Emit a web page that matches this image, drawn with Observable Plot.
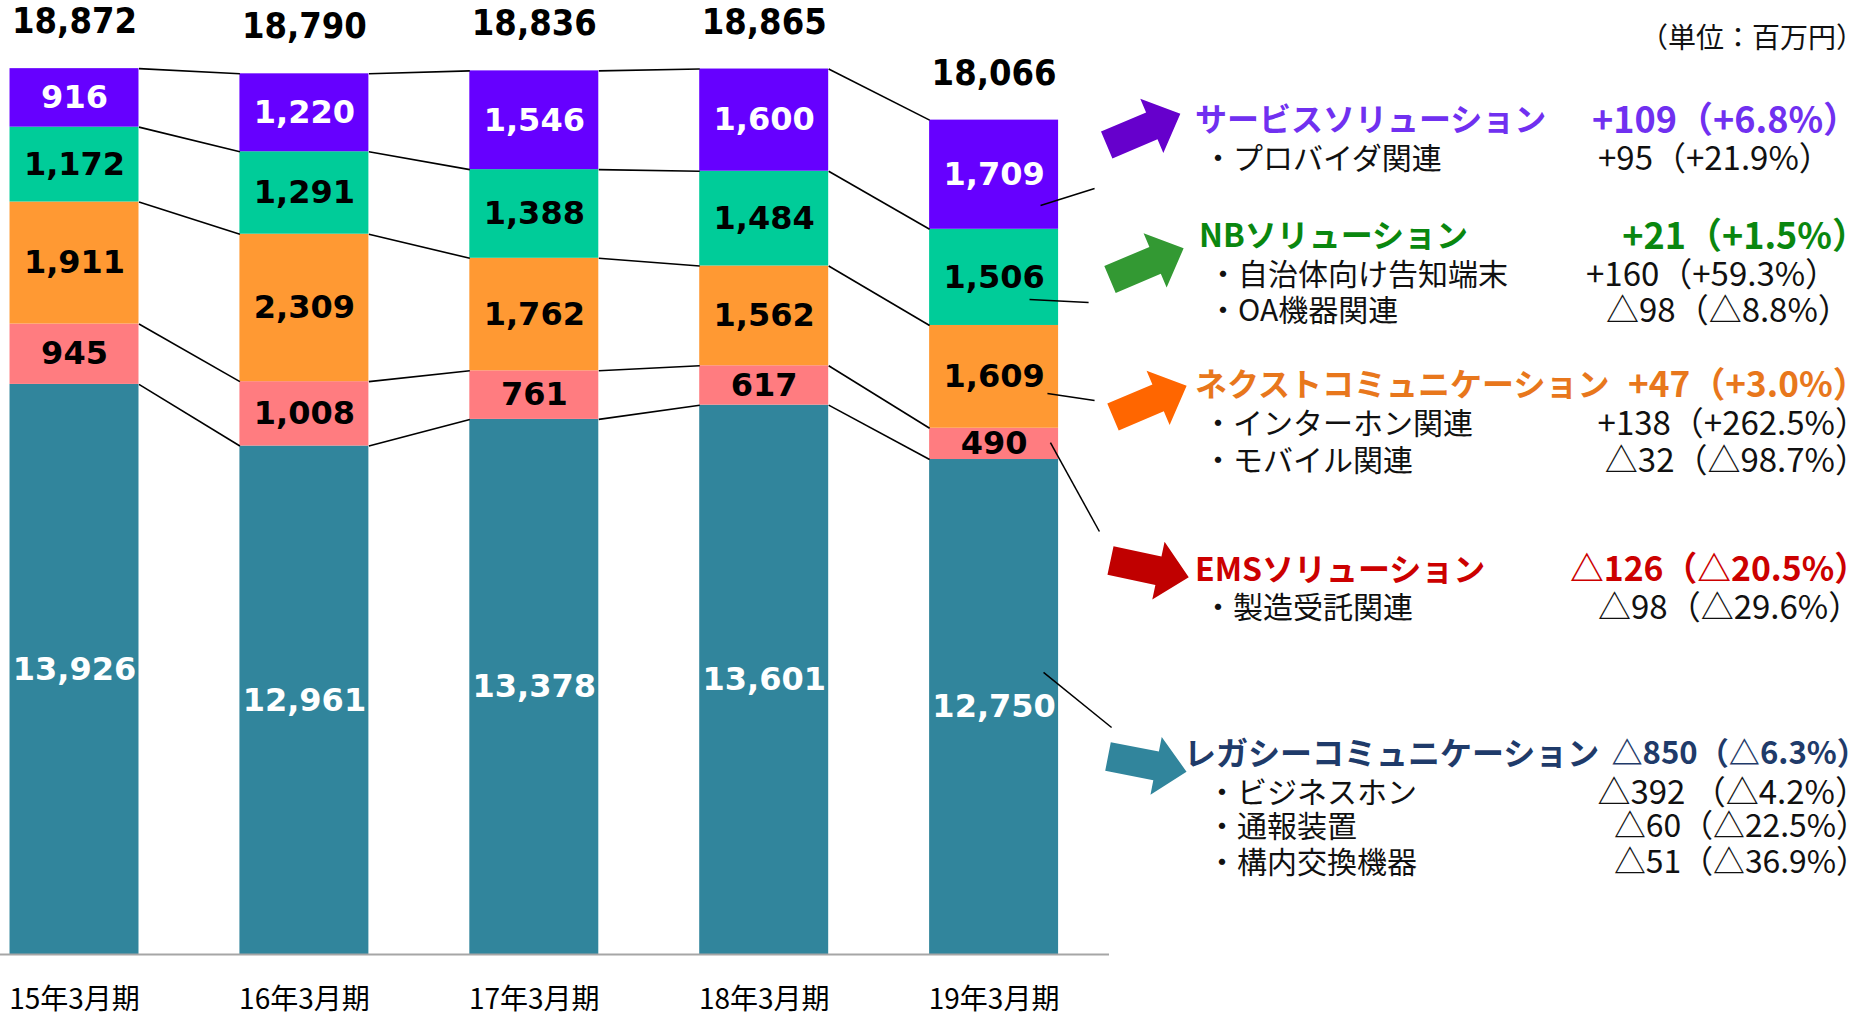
<!DOCTYPE html>
<html>
<head>
<meta charset="utf-8">
<script src="https://cdn.jsdelivr.net/npm/d3@7"></script>
<script src="https://cdn.jsdelivr.net/npm/@observablehq/plot@0.6"></script>
<style>
  html, body { margin: 0; padding: 0; background: #fff; }
  #wrap { position: relative; width: 1870px; height: 1016px; overflow: hidden; }
  #chart { position: absolute; left: 0; top: 0; }
  .ann { position: absolute; white-space: nowrap; line-height: 1; transform: translateY(-50%);
         font-family: "Noto Sans CJK JP", "Noto Sans", sans-serif; }
  .title { font-weight: bold; font-size: 32px; }
  .tval { font-weight: bold; font-size: 36px; }
  .sub { font-size: 30px; color: #111; }
  .sval { font-size: 33px; color: #111; }
  #arrows { position: absolute; left: 0; top: 0; }
</style>
</head>
<body>
<div id="wrap">
  <div id="chart"></div>
  <svg id="arrows" width="1870" height="1016"></svg>
</div>
<script>
// ---------------- data ----------------
const years = ["15年3月期", "16年3月期", "17年3月期", "18年3月期", "19年3月期"];
const totals = ["18,872", "18,790", "18,836", "18,865", "18,066"];
const seriesNames = ["レガシーコミュニケーション", "EMSソリューション", "ネクストコミュニケーション", "NBソリューション", "サービスソリューション"];
const legacy  = [13926, 12961, 13378, 13601, 12750];
const ems     = [945, 1008, 761, 617, 490];
const nextCom = [1911, 2309, 1762, 1562, 1609];
const nb      = [1172, 1291, 1388, 1484, 1506];
const service = [916, 1220, 1546, 1600, 1709];
const seriesChange = ["△850（△6.3%）", "△126（△20.5%）", "+47（+3.0%）", "+21（+1.5%）", "+109（+6.8%）"];
const subNames = [
  ["・ビジネスホン", "・通報装置", "・構内交換機器"],
  ["・製造受託関連"],
  ["・インターホン関連", "・モバイル関連"],
  ["・自治体向け告知端末", "・OA機器関連"],
  ["・プロバイダ関連"]
];
const subChange = [
  ["△392 （△4.2%）", "△60（△22.5%）", "△51（△36.9%）"],
  ["△98（△29.6%）"],
  ["+138（+262.5%）", "△32（△98.7%）"],
  ["+160（+59.3%）", "△98（△8.8%）"],
  ["+95（+21.9%）"]
];
const unitLabel = "（単位：百万円）";
const axisMin = 5000;

// ---------------- styles / layout ----------------
const fills = ["#31859C", "#FF7C80", "#FF9933", "#00CC99", "#6600FF"];
const labelInk = ["#ffffff", "#000000", "#000000", "#000000", "#ffffff"];
const titleInk = ["#1F3B6A", "#CC0000", "#E8771C", "#0A870F", "#7030F0"];
const arrowInk = ["#31859C", "#C00000", "#FF6600", "#339933", "#6600CC"];
const HW = 0.2805; // half bar width in x units
// note blocks: title y / left, value left, sub lines y, sub left, sub value left, arrow [x, y, angle]
const layout = [
  {ty: 751, tl: 1184, vl: 1610, sy: [789.5, 824, 860], sl: 1207, svl: [1610, 1628, 1628], arrow: [1108, 756.5, 11]},
  {ty: 566.5, tl: 1195, vl: 1578, sy: [604.6], sl: 1203, svl: [1598], arrow: [1110.5, 560.5, 12]},
  {ty: 381.6, tl: 1195, vl: 1636, sy: [421, 458], sl: 1203, svl: [1602, 1618], arrow: [1113, 417, -23]},
  {ty: 232.6, tl: 1199, vl: 1624, sy: [272, 307.7], sl: 1208, svl: [1586, 1606], arrow: [1110, 279.5, -23]},
  {ty: 117, tl: 1195, vl: 1592, sy: [156], sl: 1203, svl: [1598], arrow: [1106.7, 145, -23]}
];
// leader lines from the last bar toward the notes: [fraction within segment, dx start, dx end, y end]
const leaders = [
  [0.57, 0.215, 0.511, 8554],
  [0.54, 0.245, 0.458, 11623],
  [0.338, 0.232, 0.437, 13674],
  [0.27, 0.154, 0.411, 15208],
  [0.218, 0.202, 0.437, 16993]
];

// ---------------- build ----------------
const series = [legacy, ems, nextCom, nb, service];
const fmt = d3.format(",");
const rows = [];
const tops = [];
years.forEach((yr, i) => {
  let cum = 0;
  tops.push([]);
  series.forEach((vals, k) => {
    const v = vals[i];
    const y1 = k === 0 ? axisMin : cum;
    const y2 = cum + v;
    rows.push({i, k, v, y1, y2, mid: (y1 + y2) / 2});
    cum += v;
    tops[i].push(cum);
  });
});
const links = [];
for (let i = 0; i < years.length - 1; i++) {
  for (let k = 0; k < series.length; k++) {
    links.push({x1: i + HW, x2: i + 1 - HW, y1: tops[i][k], y2: tops[i + 1][k]});
  }
}
const last = years.length - 1;
const leaderRows = leaders.map(([f, dx1, dx2, yEnd], k) => {
  const r = rows.find(d => d.i === last && d.k === k);
  return {x1: last + dx1, y1: r.y1 + f * (r.y2 - r.y1), x2: last + dx2, y2: yEnd};
});
const xMin = -0.3219;

const chart = Plot.plot({
  width: 1870, height: 1016,
  marginTop: 0, marginBottom: 62, marginLeft: 0, marginRight: 0,
  x: {type: "linear", domain: [xMin, 7.8121], axis: null},
  y: {domain: [axisMin, 19937], axis: null},
  color: {type: "identity"},
  marks: [
    Plot.rectY(rows, {x1: d => d.i - HW, x2: d => d.i + HW, y1: "y1", y2: "y2", fill: d => fills[d.k]}),
    Plot.link(links, {x1: "x1", y1: "y1", x2: "x2", y2: "y2", stroke: "#000", strokeWidth: 1.6}),
    Plot.ruleY([axisMin], {x1: xMin, x2: last + 0.502, stroke: "#a6a6a6", strokeWidth: 2}),
    Plot.text(rows, {x: "i", y: "mid", text: d => fmt(d.v), fill: d => labelInk[d.k],
      fontSize: 32, fontWeight: "bold", fontFamily: "DejaVu Sans"}),
    Plot.text(totals, {x: (d, i) => i, y: (d, i) => tops[i][series.length - 1], dy: -47, text: d => d,
      fill: "#000", fontSize: 36, fontWeight: "bold", fontFamily: "DejaVu Sans Condensed, DejaVu Sans"}),
    Plot.text(years, {x: (d, i) => i, y: () => axisMin, dy: 46, text: d => d,
      fill: "#000", fontSize: 28, fontFamily: "Noto Sans CJK JP"}),
    Plot.link(leaderRows, {x1: "x1", y1: "y1", x2: "x2", y2: "y2", stroke: "#000", strokeWidth: 1.5})
  ]
});
document.getElementById("chart").appendChild(chart);

// ---------------- notes ----------------
const wrap = document.getElementById("wrap");
const EDGE = 1868;
function addText(txt, cls, y, left, color, size, minLeft) {
  const el = document.createElement("div");
  el.className = "ann " + cls;
  el.textContent = txt;
  el.style.top = y + "px";
  el.style.left = left + "px";
  if (color) el.style.color = color;
  if (size) el.style.fontSize = size + "px";
  wrap.appendChild(el);
  const w = el.getBoundingClientRect().width;
  if (left + w > EDGE) {
    const lo = minLeft != null ? minLeft : left - 14;
    const nl = Math.max(lo, EDGE - w);
    el.style.left = nl + "px";
    if (nl + w > EDGE) {
      const fs = parseFloat(getComputedStyle(el).fontSize);
      el.style.fontSize = (fs * (EDGE - nl) / w) + "px";
    }
  }
  return el;
}
addText(unitLabel, "sub", 36, 1640, null, 28);
const svgA = d3.select("#arrows");
seriesNames.forEach((name, k) => {
  const L = layout[k];
  const t = addText(name, "title", L.ty, L.tl, titleInk[k]);
  const tEnd = L.tl + t.getBoundingClientRect().width;
  addText(seriesChange[k], "tval", L.ty, L.vl, titleInk[k], null, Math.max(tEnd + 12, L.vl - 8));
  subNames[k].forEach((s, j) => {
    addText(s, "sub", L.sy[j], L.sl);
    addText(subChange[k][j], "sval", L.sy[j], L.svl[j]);
  });
  const [ax, ay, ang] = L.arrow;
  svgA.append("polygon")
    .attr("points", "0,-14.6 49,-14.6 49,-29.5 80,0 49,29.5 49,14.6 0,14.6")
    .attr("transform", `translate(${ax},${ay}) rotate(${ang})`)
    .attr("fill", arrowInk[k]);
});
</script>
</body>
</html>
